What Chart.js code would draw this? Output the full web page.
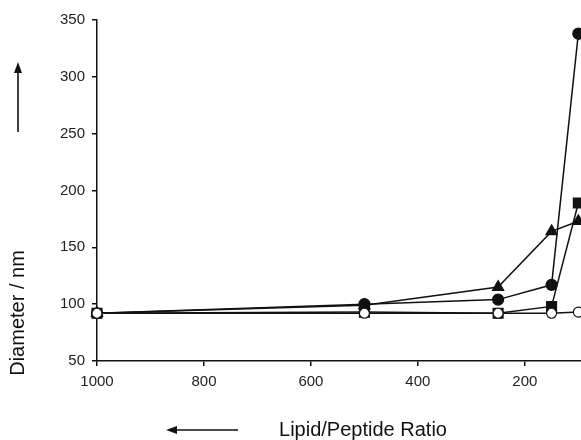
<!DOCTYPE html>
<html>
<head>
<meta charset="utf-8">
<script src="https://cdn.jsdelivr.net/npm/chart.js@4/dist/chart.umd.min.js"></script>
<style>
  body { margin: 0; background: #fff; }
  #wrap { width: 581px; height: 440px; }
</style>
</head>
<body>
<div id="wrap"><canvas id="sizeChart" width="581" height="440"></canvas></div>
<script>
// lipid/peptide ratios (x) and diameters in nm
const ratios = [1000, 500, 250, 150, 100];
const openCircle = [92, 92, 92, 92, 93];
const squares = [92, 93, 92, 98, 189];
const triangles = [92, 99, 115, 164, 173];
const circles = [92, 100, 104, 117, 338];
const xTicks = [1000, 800, 600, 400, 200];
const yTicks = [50, 100, 150, 200, 250, 300, 350];

const pts = vals => vals.map((v, i) => ({ x: ratios[i], y: v }));

const font = "'Liberation Sans', Arial, sans-serif";

// axis titles with arrows, drawn after the chart
const axisTitles = {
  id: 'axisTitles',
  afterDraw(chart) {
    const ctx = chart.ctx;
    ctx.save();
    ctx.fillStyle = '#111';
    ctx.strokeStyle = '#111';
    ctx.lineWidth = 1.6;
    ctx.font = '20px ' + font;
    ctx.textAlign = 'center';
    ctx.textBaseline = 'middle';

    // x title + left arrow
    ctx.fillText('Lipid/Peptide Ratio', 363, 430);
    ctx.beginPath();
    ctx.moveTo(238, 430); ctx.lineTo(174, 430); ctx.stroke();
    ctx.beginPath();
    ctx.moveTo(166, 430); ctx.lineTo(177, 426); ctx.lineTo(177, 434); ctx.closePath(); ctx.fill();

    // y title + up arrow
    ctx.save();
    ctx.translate(18, 313);
    ctx.rotate(-Math.PI / 2);
    ctx.fillText('Diameter / nm', 0, 0);
    ctx.restore();
    ctx.beginPath();
    ctx.moveTo(18, 132); ctx.lineTo(18, 70); ctx.stroke();
    ctx.beginPath();
    ctx.moveTo(18, 62); ctx.lineTo(14, 73); ctx.lineTo(22, 73); ctx.closePath(); ctx.fill();
    ctx.restore();
  }
};

const series = (data, style, radius, fill) => ({
  data: pts(data),
  borderColor: '#111',
  borderWidth: 1.5,
  pointStyle: style,
  pointRadius: radius,
  pointBackgroundColor: fill,
  pointBorderColor: '#111',
  pointBorderWidth: 1.2,
  showLine: true,
  clip: false
});

new Chart(document.getElementById('sizeChart'), {
  type: 'scatter',
  data: {
    datasets: [
      series(openCircle, 'circle', 5, '#fff'),
      series(squares, 'rect', 7, '#111'),
      series(triangles, 'triangle', 6.5, '#111'),
      series(circles, 'circle', 5.5, '#111')
    ]
  },
  options: {
    responsive: false,
    animation: false,
    // the original plot runs off the right edge of the picture
    layout: { autoPadding: false, padding: { top: 20, left: 0, right: 0, bottom: 0 } },
    plugins: { legend: { display: false }, tooltip: { enabled: false } },
    scales: {
      x: {
        type: 'linear',
        reverse: true,
        min: 95,
        max: 1000,
        afterBuildTicks: s => { s.ticks = xTicks.map(v => ({ value: v })); },
        afterFit: s => { s.height = 79; s.paddingLeft = 0; s.paddingRight = 0; },
        border: { color: '#111', width: 1.5 },
        grid: { drawOnChartArea: false, color: '#111', tickLength: 5, lineWidth: 1.5 },
        ticks: {
          color: '#222', font: { family: font, size: 15 }, padding: 7, maxRotation: 0,
          callback: v => String(v)
        }
      },
      y: {
        min: 50,
        max: 350,
        afterBuildTicks: s => { s.ticks = yTicks.map(v => ({ value: v })); },
        afterFit: s => { s.width = 97; },
        border: { color: '#111', width: 1.5 },
        grid: { drawOnChartArea: false, color: '#111', tickLength: 5, lineWidth: 1.5 },
        ticks: { color: '#222', font: { family: font, size: 15 }, padding: 7 }
      }
    }
  },
  plugins: [axisTitles]
});
</script>
</body>
</html>
